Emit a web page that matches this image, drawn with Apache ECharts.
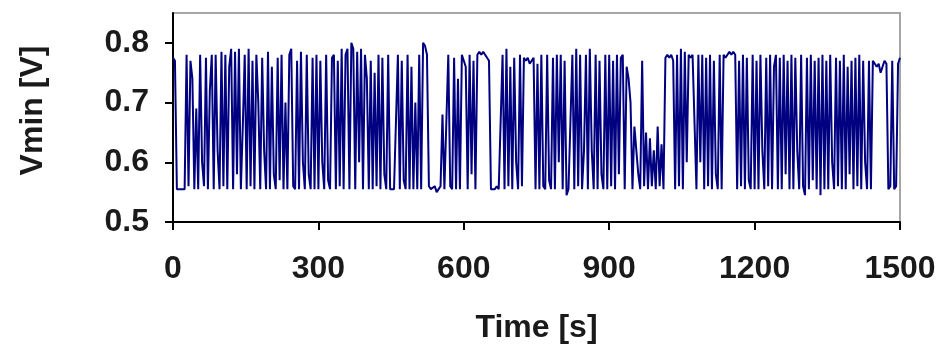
<!DOCTYPE html>
<html>
<head>
<meta charset="utf-8">
<script src="https://cdn.jsdelivr.net/npm/echarts@6/dist/echarts.min.js"></script>
<style>
html,body{margin:0;padding:0;background:#fff;}
#chart{width:940px;height:349px;}
</style>
</head>
<body>
<div id="chart"></div>
<script>
// Time step between samples (s)
var timeStep = 4;
// Vmin samples [V], 0–296 s
var seg1 = [0.775,0.77,0.555,0.555,0.555,0.555,0.555,0.78,0.56,0.77,0.74,0.555,0.69,0.555,0.78,
            0.60,0.56,0.775,0.555,0.72,0.78,0.555,0.78,0.62,0.555,0.785,0.56,0.78,0.555,0.76,
            0.79,0.555,0.785,0.58,0.79,0.555,0.66,0.78,0.555,0.79,0.56,0.77,0.555,0.78,0.70,
            0.555,0.775,0.62,0.555,0.785,0.555,0.76,0.58,0.555,0.775,0.57,0.78,0.555,0.70,0.555,
            0.78,0.79,0.56,0.555,0.77,0.555,0.785,0.60,0.555,0.78,0.58,0.555,0.775,0.555,0.78];
// 300–596 s
var seg2 = [0.555,0.77,0.60,0.555,0.78,0.57,0.555,0.775,0.78,0.555,0.77,0.56,0.79,0.555,0.78,
            0.79,0.555,0.80,0.79,0.555,0.785,0.60,0.79,0.555,0.78,0.74,0.555,0.77,0.555,0.75,
            0.56,0.78,0.555,0.775,0.58,0.555,0.78,0.555,0.555,0.555,0.555,0.78,0.555,0.77,0.57,
            0.555,0.78,0.555,0.76,0.555,0.70,0.555,0.78,0.555,0.80,0.795,0.78,0.56,0.555,0.555,
            0.56,0.55,0.555,0.56,0.68,0.555,0.555,0.78,0.56,0.555,0.775,0.555,0.74,0.555,0.78];
// 600–896 s
var seg3 = [0.78,0.76,0.555,0.78,0.58,0.77,0.555,0.78,0.785,0.78,0.785,0.78,0.775,0.77,0.555,
            0.555,0.555,0.56,0.555,0.555,0.78,0.555,0.79,0.56,0.76,0.555,0.775,0.60,0.555,0.78,
            0.56,0.775,0.77,0.775,0.765,0.77,0.775,0.555,0.765,0.555,0.78,0.56,0.555,0.78,0.57,
            0.555,0.775,0.555,0.78,0.60,0.78,0.555,0.77,0.545,0.555,0.555,0.78,0.555,0.79,0.56,
            0.78,0.555,0.62,0.78,0.555,0.79,0.62,0.555,0.78,0.555,0.77,0.58,0.555,0.78,0.555];
// 900–1196 s
var seg4 = [0.78,0.56,0.77,0.555,0.78,0.58,0.775,0.78,0.555,0.76,0.74,0.70,0.555,0.66,0.62,
            0.58,0.555,0.77,0.56,0.65,0.555,0.64,0.56,0.62,0.555,0.66,0.56,0.63,0.555,0.775,
            0.78,0.775,0.78,0.77,0.555,0.78,0.56,0.79,0.555,0.785,0.60,0.78,0.775,0.78,0.78,
            0.555,0.78,0.60,0.78,0.555,0.775,0.56,0.78,0.555,0.77,0.58,0.555,0.78,0.555,0.78,
            0.775,0.78,0.785,0.78,0.785,0.78,0.555,0.77,0.56,0.78,0.555,0.775,0.57,0.555,0.78];
// 1200–1500 s
var seg5 = [0.555,0.77,0.555,0.78,0.62,0.555,0.775,0.56,0.78,0.555,0.76,0.78,0.555,0.775,0.555,
            0.78,0.58,0.77,0.555,0.78,0.555,0.775,0.62,0.555,0.78,0.56,0.545,0.775,0.555,0.78,
            0.57,0.77,0.555,0.775,0.545,0.78,0.555,0.77,0.555,0.78,0.60,0.555,0.775,0.56,0.77,
            0.555,0.78,0.555,0.76,0.58,0.77,0.555,0.775,0.56,0.78,0.555,0.77,0.60,0.555,0.77,
            0.555,0.77,0.765,0.76,0.765,0.75,0.76,0.77,0.765,0.555,0.56,0.77,0.555,0.56,0.765,
            0.775];
var xTicks = [0, 300, 600, 900, 1200, 1500];
var yTicks = [0.5, 0.6, 0.7, 0.8];

var vals = seg1.concat(seg2, seg3, seg4, seg5);
var data = vals.map(function (v, i) { return [i * timeStep, v]; });

var font = '"Liberation Sans", Arial, sans-serif';
var txt = '#1a1a1a';
var chart = echarts.init(document.getElementById('chart'), null, {renderer: 'canvas'});
chart.setOption({
  animation: false,
  backgroundColor: '#fff',
  grid: {left: 173, right: 40, top: 13, bottom: 127, show: true, borderColor: '#a6a6a6', borderWidth: 2, backgroundColor: 'transparent'},
  xAxis: {
    type: 'value', min: 0, max: 1500, interval: 300,
    name: 'Time [s]', nameLocation: 'middle', nameGap: 90,
    nameTextStyle: {fontFamily: font, fontWeight: 'bold', fontSize: 32, color: txt},
    axisLine: {show: true, onZero: false, lineStyle: {color: '#000', width: 2}},
    axisTick: {show: true, inside: false, length: 8, lineStyle: {color: '#000', width: 2}, customValues: xTicks},
    axisLabel: {margin: 31, fontFamily: font, fontWeight: 'bold', fontSize: 32, color: txt,
                customValues: xTicks, formatter: function (v) { return String(v); }},
    splitLine: {show: false}
  },
  yAxis: {
    type: 'value', min: 0.5, max: 0.85,
    name: 'Vmin [V]', nameLocation: 'middle', nameGap: 124, nameRotate: 90,
    nameTextStyle: {fontFamily: font, fontWeight: 'bold', fontSize: 32, color: txt, padding: [0, 0, 0, 14]},
    axisLine: {show: true, onZero: false, lineStyle: {color: '#000', width: 2}},
    axisTick: {show: true, inside: false, length: 8, lineStyle: {color: '#000', width: 2}, customValues: yTicks},
    axisLabel: {margin: 24, fontFamily: font, fontWeight: 'bold', fontSize: 32, color: txt,
                customValues: yTicks, formatter: function (v) { return v.toFixed(1); }},
    splitLine: {show: false}
  },
  series: [{
    type: 'line', data: data, showSymbol: false, symbol: 'none',
    lineStyle: {color: '#000080', width: 2},
    clip: true
  }]
});
</script>
</body>
</html>
